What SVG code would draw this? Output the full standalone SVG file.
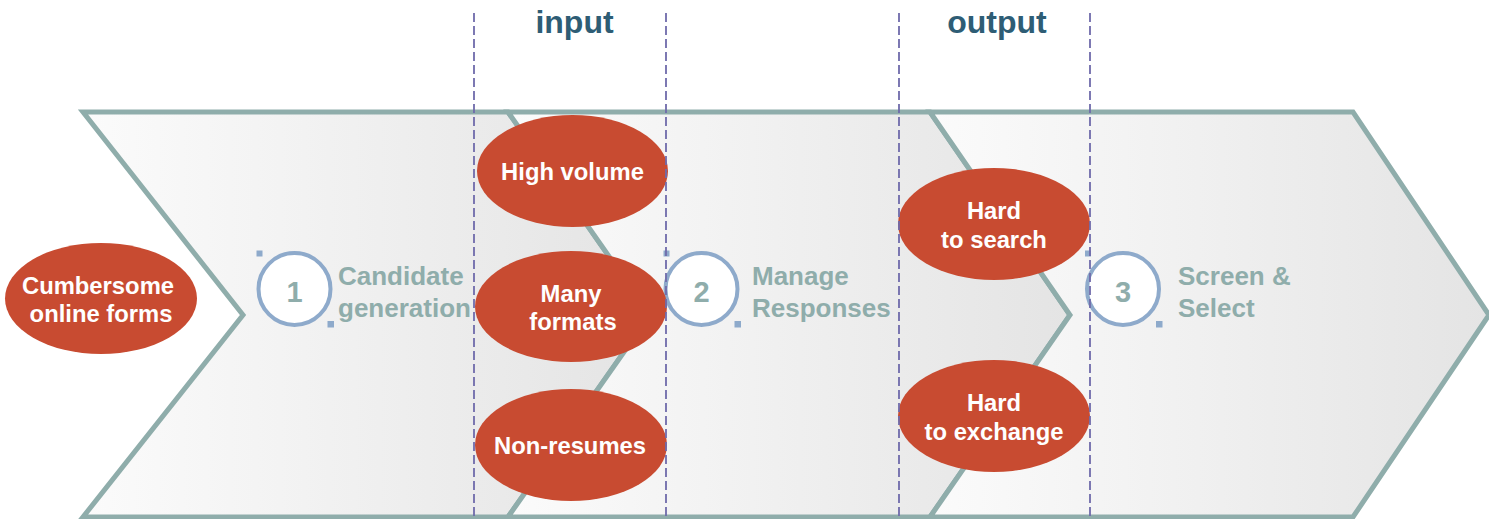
<svg xmlns="http://www.w3.org/2000/svg" width="1489" height="519" viewBox="0 0 1489 519">
  <defs>
    <linearGradient id="chevFill" x1="0" y1="0" x2="1" y2="0">
      <stop offset="0" stop-color="#fbfbfb"/>
      <stop offset="1" stop-color="#e4e4e4"/>
    </linearGradient>
    <style>
      .chev { fill: url(#chevFill); stroke: #8fadab; stroke-width: 5; stroke-linejoin: miter; }
      .blob { fill: #c84b31; }
      .blob-text { font-family: "Liberation Sans", Arial, sans-serif; font-weight: bold; font-size: 23.8px; fill: #ffffff; text-anchor: middle; }
      .ring { fill: #ffffff; stroke: #8eaacb; stroke-width: 4; }
      .handle { fill: #8eaacb; }
      .num { font-family: "Liberation Sans", Arial, sans-serif; font-weight: bold; font-size: 29px; fill: #8fadab; text-anchor: middle; }
      .step { font-family: "Liberation Sans", Arial, sans-serif; font-weight: bold; font-size: 26px; fill: #8fadab; }
      .head { font-family: "Liberation Sans", Arial, sans-serif; font-weight: bold; font-size: 32px; fill: #2e5d75; text-anchor: middle; }
      .divider { stroke: #6f6bab; stroke-width: 1.8; stroke-dasharray: 9 4; fill: none; }
    </style>
  </defs>

  <rect width="1489" height="519" fill="#ffffff"/>

  <!-- process chevrons -->
  <g id="chevron-1">
    <polygon class="chev" points="83,112 508,112 650,315 508,517 83,517 243,315"/>
  </g>
  <g id="chevron-2">
    <polygon class="chev" points="508,112 930,112 1070,315 930,517 508,517 650,315"/>
  </g>
  <g id="chevron-3">
    <polygon class="chev" points="930,112 1353,112 1489,315 1353,517 930,517 1070,315"/>
  </g>

  <!-- step markers -->
  <g id="step-1">
    <circle class="ring" cx="294.5" cy="289" r="36"/>
    <rect class="handle" x="256.5" y="250.5" width="6" height="6"/>
    <rect class="handle" x="327.5" y="321" width="6.5" height="6.5"/>
    <text class="num" x="294.5" y="301.5">1</text>
    <text class="step" x="338" y="284.5">Candidate</text>
    <text class="step" x="338" y="316.5">generation</text>
  </g>
  <g id="step-2">
    <circle class="ring" cx="701.5" cy="289" r="36"/>
    <rect class="handle" x="663.5" y="250.5" width="6" height="6"/>
    <rect class="handle" x="734.5" y="321" width="6.5" height="6.5"/>
    <text class="num" x="701.5" y="301.5">2</text>
    <text class="step" x="752" y="284.5">Manage</text>
    <text class="step" x="752" y="316.5">Responses</text>
  </g>
  <g id="step-3">
    <circle class="ring" cx="1123" cy="289" r="36"/>
    <rect class="handle" x="1085" y="250.5" width="6" height="6"/>
    <rect class="handle" x="1156" y="321" width="6.5" height="6.5"/>
    <text class="num" x="1123" y="301.5">3</text>
    <text class="step" x="1178" y="284.5">Screen &amp;</text>
    <text class="step" x="1178" y="316.5">Select</text>
  </g>

  <!-- pain points -->
  <g id="cumbersome-forms">
    <ellipse class="blob" cx="101" cy="298.5" rx="96" ry="55.5"/>
    <text class="blob-text" x="98" y="294">Cumbersome</text>
    <text class="blob-text" x="101" y="322">online forms</text>
  </g>
  <g id="high-volume">
    <ellipse class="blob" cx="572.5" cy="171" rx="95.5" ry="56"/>
    <text class="blob-text" x="572.5" y="180">High volume</text>
  </g>
  <g id="many-formats">
    <ellipse class="blob" cx="571" cy="306.5" rx="96" ry="55.5"/>
    <text class="blob-text" x="571" y="302">Many</text>
    <text class="blob-text" x="573" y="330">formats</text>
  </g>
  <g id="non-resumes">
    <ellipse class="blob" cx="571" cy="445" rx="96" ry="56"/>
    <text class="blob-text" x="570" y="454">Non-resumes</text>
  </g>
  <g id="hard-to-search">
    <ellipse class="blob" cx="994" cy="224" rx="96" ry="56"/>
    <text class="blob-text" x="994" y="219">Hard</text>
    <text class="blob-text" x="994" y="248">to search</text>
  </g>
  <g id="hard-to-exchange">
    <ellipse class="blob" cx="994" cy="416" rx="96" ry="56"/>
    <text class="blob-text" x="994" y="411">Hard</text>
    <text class="blob-text" x="994" y="440">to exchange</text>
  </g>

  <!-- input / output boundaries -->
  <g id="dividers">
    <line class="divider" x1="474" y1="13" x2="474" y2="517"/>
    <line class="divider" x1="666" y1="13" x2="666" y2="517"/>
    <line class="divider" x1="899" y1="13" x2="899" y2="517"/>
    <line class="divider" x1="1090" y1="13" x2="1090" y2="517"/>
  </g>

  <g id="headings">
    <text class="head" x="574.5" y="33">input</text>
    <text class="head" x="997" y="33">output</text>
  </g>
</svg>
